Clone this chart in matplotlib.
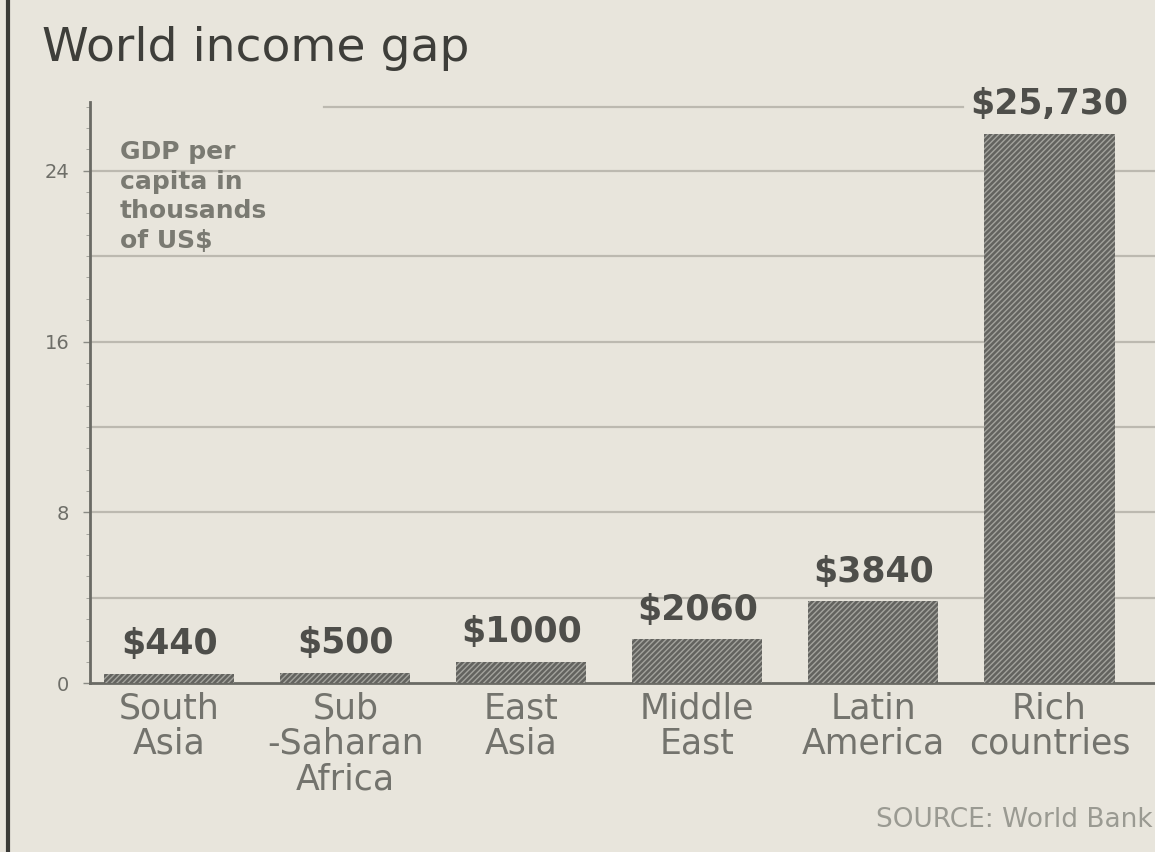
import numpy as np
import matplotlib.pyplot as plt
from matplotlib.ticker import MultipleLocator

# Data (GDP per capita, thousands of US$)
regions = ["South\nAsia", "Sub\n-Saharan\nAfrica", "East\nAsia",
           "Middle\nEast", "Latin\nAmerica", "Rich\ncountries"]
gdp = [0.44, 0.50, 1.00, 2.06, 3.84, 25.73]
value_labels = ["$440", "$500", "$1000", "$2060", "$3840", "$25,730"]
y_ticks = [0, 8, 16, 24]

bg = "#e8e5dc"
fig = plt.figure(figsize=(11.55, 8.52), dpi=100, facecolor=bg)
ax = fig.add_axes([0.078, 0.198, 0.922, 0.682], facecolor=bg)

x = np.arange(len(regions))
ax.bar(x, gdp, width=0.74, color="#63635f", edgecolor="#a3a39d",
       hatch="//////", linewidth=0, zorder=3)

# value labels above bars
for xi, v, lab in zip(x, gdp, value_labels):
    ax.annotate(lab, (xi, v), xytext=(0, 9), textcoords="offset points",
                ha="center", va="bottom", fontsize=25, fontweight="bold",
                color="#4e4e4a")

ax.set_xlim(-0.45, 5.6)
ax.set_ylim(0, 27.2)

# grid lines
for g in [4, 8, 12, 16, 20, 24]:
    ax.axhline(g, color="#bcb9b0", lw=1.6, zorder=1)
ax.axhline(27, xmin=0.22, xmax=0.82, color="#bcb9b0", lw=1.6, zorder=1)

ax.set_yticks(y_ticks)
ax.yaxis.set_minor_locator(MultipleLocator(1))
ax.tick_params(axis="y", labelsize=14, labelcolor="#6e6e68", color="#8a8a84",
               length=5, width=1, pad=10)
ax.tick_params(axis="y", which="minor", length=3, color="#9a9a94")

ax.set_xticks(x)
ax.set_xticklabels(regions, fontsize=25, color="#73736d", linespacing=1.05)
ax.tick_params(axis="x", length=0, pad=6)

for s in ["top", "right"]:
    ax.spines[s].set_visible(False)
ax.spines["left"].set_color("#6a6a64")
ax.spines["left"].set_linewidth(2)
ax.spines["bottom"].set_color("#6a6a64")
ax.spines["bottom"].set_linewidth(2)

ax.text(0.028, 0.935, "GDP per\ncapita in\nthousands\nof US$", transform=ax.transAxes,
        ha="left", va="top", fontsize=18, fontweight="bold", color="#7a7a72",
        linespacing=1.3)

fig.text(0.036, 0.943, "World income gap", fontsize=34, color="#3e3e3a",
         ha="left", va="center")
fig.text(0.998, 0.037, "SOURCE: World Bank", fontsize=19, color="#9a9a92",
         ha="right", va="center")

# left frame edge
fig.add_artist(plt.Line2D([0.007, 0.007], [0, 1], color="#3a3a36", lw=3))

fig.savefig("out.png", dpi=100, facecolor=bg)
